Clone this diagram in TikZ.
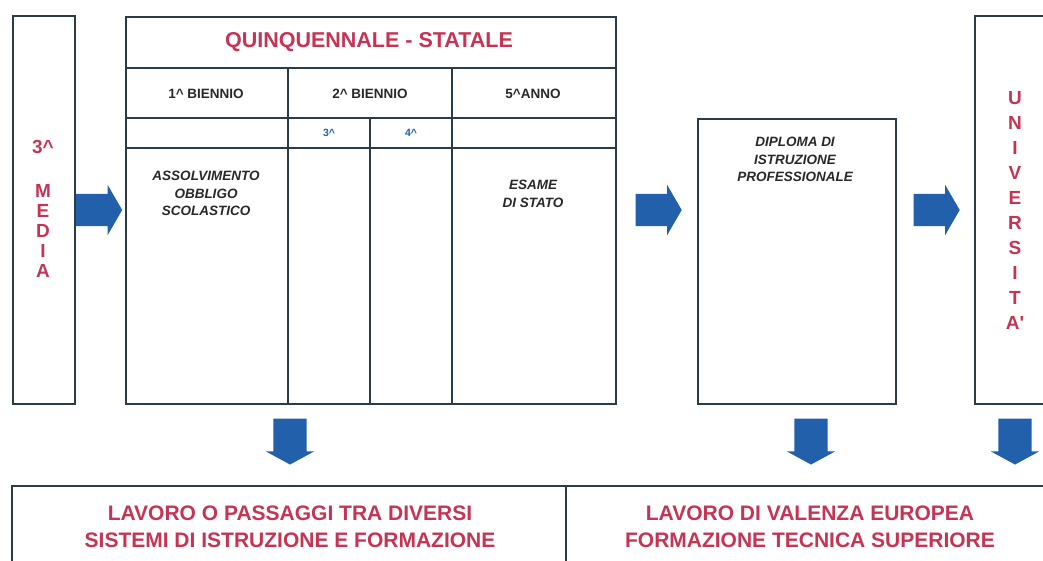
\documentclass[tikz,border=0pt]{standalone}
\usepackage{fontspec}
\setmainfont{Liberation Sans}
\usetikzlibrary{shapes.arrows,calc}
\definecolor{titlered}{RGB}{198,52,84}
\definecolor{arrowblue}{RGB}{34,96,172}
\definecolor{framegray}{RGB}{44,60,70}
\definecolor{inkgray}{RGB}{40,40,44}

\begin{document}
\begin{tikzpicture}[x=1pt,y=-1pt,
    frame/.style={draw=framegray,line width=1.6pt},
    rarrow/.style={single arrow,fill=arrowblue,draw=none,inner xsep=0pt,inner ysep=16pt,
      minimum height=46pt,minimum width=50pt,single arrow head extend=9pt,
      single arrow tip angle=120},
    darrow/.style={rarrow,shape border rotate=270,inner xsep=16.5pt,inner ysep=0pt,
      minimum width=48pt,single arrow head extend=7.5pt,single arrow tip angle=123},
    cellhead/.style={font=\bfseries\fontsize{13.5}{15}\selectfont,text=inkgray,inner sep=0pt},
    classno/.style={font=\bfseries\fontsize{10.5}{12}\selectfont,text=arrowblue,inner sep=0pt},
    note/.style={font=\bfseries\itshape\fontsize{13.5}{17.5}\selectfont,align=center,
      text=inkgray,inner sep=0pt,anchor=north},
    redtext/.style={font=\bfseries\fontsize{21.5}{27}\selectfont,text=titlered,
      align=center,inner sep=0pt}]
  \useasboundingbox (0,0) rectangle (1043,561);
  \clip (0,0) rectangle (1043,561);

  % boxes
  \node[frame,anchor=north west,minimum width=62pt,minimum height=388pt] (media) at (12,15) {};
  \node[frame,anchor=north west,minimum width=490pt,minimum height=387pt] (quinq) at (125,16) {};
  \node[frame,anchor=north west,minimum width=198pt,minimum height=285pt] (diploma) at (697,118) {};
  \node[frame,anchor=north west,minimum width=100pt,minimum height=388pt] (univ) at (974,15) {};
  \node[frame,anchor=north west,minimum width=1060pt,minimum height=100pt] (lavoro) at (11,485) {};

  % table lines
  \draw[frame] (quinq.west |- 0,68) -- (quinq.east |- 0,68);
  \draw[frame] (quinq.west |- 0,118) -- (quinq.east |- 0,118);
  \draw[frame] (quinq.west |- 0,148) -- (quinq.east |- 0,148);
  \draw[frame] (288,68) -- (288,403);
  \draw[frame] (452,68) -- (452,403);
  \draw[frame] (370,118) -- (370,403);
  \draw[frame] (566,485) -- (566,561);

  % texts
  \node[redtext] (qtitle) at (369,42) {QUINQUENNALE - STATALE};
  \node[cellhead] (bien1) at (206,94) {1\textasciicircum\ BIENNIO};
  \node[cellhead] (bien2) at (370,94) {2\textasciicircum\ BIENNIO};
  \node[cellhead] (anno5) at (533,94) {5\textasciicircum ANNO};
  \node[classno] (cl3) at (329,133) {3\textasciicircum};
  \node[classno] (cl4) at (411,133) {4\textasciicircum};
  \node[note] (obbligo) at (206,171) {ASSOLVIMENTO\\OBBLIGO\\SCOLASTICO};
  \node[note] (esame) at (533,180) {ESAME\\DI STATO};
  \node[note] (diptext) at (795,137) {DIPLOMA DI\\ISTRUZIONE\\PROFESSIONALE};

  \node[redtext,anchor=north,font=\bfseries\fontsize{19}{20}\selectfont] (mediatext) at (43,140)
    {3\textasciicircum\\[24pt]M\\E\\D\\I\\A};
  \node[redtext,anchor=north,font=\bfseries\fontsize{19}{25}\selectfont] (univtext) at (1015,91)
    {U\\N\\I\\V\\E\\R\\S\\I\\T\\A\textquotesingle};

  \node[redtext,font=\bfseries\fontsize{21}{27}\selectfont] (lavtext1) at (290,527)
    {LAVORO O PASSAGGI TRA DIVERSI\\SISTEMI DI ISTRUZIONE E FORMAZIONE};
  \node[redtext,font=\bfseries\fontsize{21}{27}\selectfont] (lavtext2) at (810,527)
    {LAVORO DI VALENZA EUROPEA\\FORMAZIONE TECNICA SUPERIORE};

  % block arrows
  \node[rarrow] (toquinq) at (94.5,210) {};
  \node[rarrow] (todip) at (654,210) {};
  \node[rarrow] (touniv) at (932,210) {};
  \node[darrow] (down1) at (290,437) {};
  \node[darrow] (down2) at (811,437) {};
  \node[darrow] (down3) at (1015,437) {};
\end{tikzpicture}
\end{document}
